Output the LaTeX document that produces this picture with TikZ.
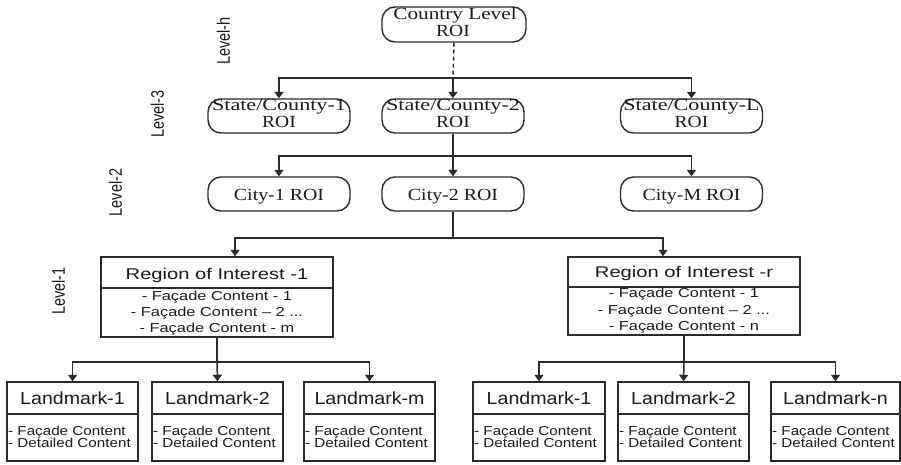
\documentclass[tikz,border=0pt]{standalone}
\usepackage{fontspec}
\setmainfont{Liberation Serif}
\newfontfamily\arialfam{Liberation Sans}
\usepackage{graphicx}
\usetikzlibrary{arrows.meta}
\newcommand\hstretch[2]{\scalebox{#1}[1]{#2}}
\newcommand\vstretch[2]{\scalebox{1}[#1]{#2}}
\definecolor{ink}{HTML}{1A1A1A}
\definecolor{edge}{HTML}{2A2A2A}

% one landmark box: name, left x, right x, title
\newcommand\landmarkbox[4]{%
  \node[lmframe, minimum width={#3-#2}] (#1) at ({(#2+#3)/2}, 421.5) {};
  \draw[divider] (#1.west |- 0,414) -- (#1.east |- 0,414);
  \node[lmtitle] (#1-t) at ({(#2+#3)/2}, 404) {\hstretch{1.12}{#4}};
  \node[lmtext] (#1-a) at ({#2+1}, 435) {\hstretch{1.17}{- Façade Content}};
  \node[lmtext] (#1-b) at ({#2+1}, 447.5) {\hstretch{1.17}{- Detailed Content}};
}

\begin{document}
\begin{tikzpicture}[x=1pt,y=-1pt,
  conn/.style={draw=edge, line width=1.5pt},
  arr/.style={conn, -{Triangle[width=9pt,length=6.5pt]}},
  divider/.style={draw=edge, line width=1.5pt},
  roi/.style={draw=edge, line width=1.4pt, rounded corners=13pt,
    minimum width=142pt, minimum height=34pt, inner sep=0},
  serif/.style={font=\fontsize{17}{17}\selectfont, text=ink, inner sep=0, anchor=base},
  regframe/.style={draw=edge, line width=1.5pt, minimum width=232pt, inner sep=0},
  reghead/.style={font=\arialfam\fontsize{15.5}{15.5}\selectfont, text=ink, inner sep=0, anchor=base},
  regtext/.style={font=\arialfam\fontsize{13}{13}\selectfont, text=ink, inner sep=0, anchor=base},
  lmframe/.style={draw=edge, line width=1.5pt, minimum height=79pt, inner sep=0},
  lmtitle/.style={font=\arialfam\fontsize{17.5}{17.5}\selectfont, text=ink, inner sep=0, anchor=base},
  lmtext/.style={font=\arialfam\fontsize{13}{13}\selectfont, text=ink, inner sep=0, anchor=base west},
  lvl/.style={font=\arialfam\fontsize{14.5}{14.5}\selectfont, text=ink, inner sep=0, rotate=90}
]
\useasboundingbox (0,0) rectangle (901,464);

% level labels
\node[lvl] (lvh) at (223.5, 41) {\vstretch{1.25}{Level-h}};
\node[lvl] (lv3) at (157.5, 114) {\vstretch{1.25}{Level-3}};
\node[lvl] (lv2) at (115.5, 192.5) {\vstretch{1.25}{Level-2}};
\node[lvl] (lv1) at (58.5, 291) {\vstretch{1.25}{Level-1}};

% country level
\node[roi, minimum width=144pt, minimum height=35pt] (country) at (454, 24.5) {};
\node[serif] (country-a) at (455, 19) {\hstretch{1.25}{Country Level}};
\node[serif] (country-b) at (453, 36) {\hstretch{1.15}{ROI}};

% state / county level
\node[roi] (st1) at (279, 116) {};
\node[roi] (st2) at (453, 116) {};
\node[roi] (stL) at (691.5, 116) {};
\node[serif] (st1-a) at (279, 110) {\hstretch{1.3}{State/County-1}};
\node[serif] (st1-b) at (279, 127) {\hstretch{1.15}{ROI}};
\node[serif] (st2-a) at (453, 110) {\hstretch{1.3}{State/County-2}};
\node[serif] (st2-b) at (453, 127) {\hstretch{1.15}{ROI}};
\node[serif] (stL-a) at (691.5, 110) {\hstretch{1.3}{State/County-L}};
\node[serif] (stL-b) at (691.5, 127) {\hstretch{1.15}{ROI}};

% city level
\node[roi] (c1) at (279, 194) {};
\node[roi] (c2) at (453, 194) {};
\node[roi] (cM) at (691.5, 194) {};
\node[serif] (c1-t) at (279, 200) {\hstretch{1.17}{City-1 ROI}};
\node[serif] (c2-t) at (453, 200) {\hstretch{1.17}{City-2 ROI}};
\node[serif] (cM-t) at (691.5, 200) {\hstretch{1.17}{City-M ROI}};

% regions of interest
\node[regframe, minimum height=80pt] (reg1) at (217, 297) {};
\draw[divider] (reg1.west |- 0,288) -- (reg1.east |- 0,288);
\node[reghead] (reg1-t) at (217, 279) {\hstretch{1.3}{Region of Interest -1}};
\node[regtext] (reg1-a) at (217, 300) {\hstretch{1.26}{- Façade Content - 1}};
\node[regtext] (reg1-b) at (217, 316) {\hstretch{1.26}{- Façade Content – 2 ...}};
\node[regtext] (reg1-c) at (217, 332) {\hstretch{1.26}{- Façade Content - m}};

\node[regframe, minimum height=78pt] (regR) at (684, 296) {};
\draw[divider] (regR.west |- 0,287) -- (regR.east |- 0,287);
\node[reghead] (regR-t) at (684, 277) {\hstretch{1.3}{Region of Interest -r}};
\node[regtext] (regR-a) at (684, 297) {\hstretch{1.26}{- Façade Content - 1}};
\node[regtext] (regR-b) at (684, 314) {\hstretch{1.26}{- Façade Content – 2 ...}};
\node[regtext] (regR-c) at (684, 330) {\hstretch{1.26}{- Façade Content - n}};

% landmarks
\landmarkbox{lmA1}{7}{138}{Landmark-1}
\landmarkbox{lmA2}{152}{283}{Landmark-2}
\landmarkbox{lmAm}{304}{435}{Landmark-m}
\landmarkbox{lmB1}{473}{605}{Landmark-1}
\landmarkbox{lmB2}{618}{749}{Landmark-2}
\landmarkbox{lmBn}{771}{900}{Landmark-n}

% junction points of the connectors
\coordinate (j0) at (453, 78);
\coordinate (j1) at (453, 156);
\coordinate (j2) at (453, 238);
\coordinate (j3) at (217, 362);
\coordinate (j4) at (684, 362);

% connectors
\draw[conn, dash pattern=on 4pt off 3pt] (country.south) -- (j0);
\draw[arr] (j0) -| (st1.north);
\draw[arr] (j0) -- (st2.north);
\draw[arr] (j0) -| (stL.north);

\draw[conn] (st2.south) -- (j1);
\draw[arr] (j1) -| (c1.north);
\draw[arr] (j1) -- (c2.north);
\draw[arr] (j1) -| (cM.north);

\draw[conn] (c2.south) -- (j2);
\draw[arr] (j2) -| ([xshift=18pt]reg1.north);
\draw[arr] (j2) -| ([xshift=-21pt]regR.north);

\draw[conn] (reg1.south) -- (j3);
\draw[arr] (j3) -| (lmA1.north);
\draw[arr] (j3) -- (lmA2.north);
\draw[arr] (j3) -| (lmAm.north);

\draw[conn] (regR.south) -- (j4);
\draw[arr] (j4) -| (lmB1.north);
\draw[arr] (j4) -- (lmB2.north);
\draw[arr] (j4) -| (lmBn.north);
\end{tikzpicture}
\end{document}
